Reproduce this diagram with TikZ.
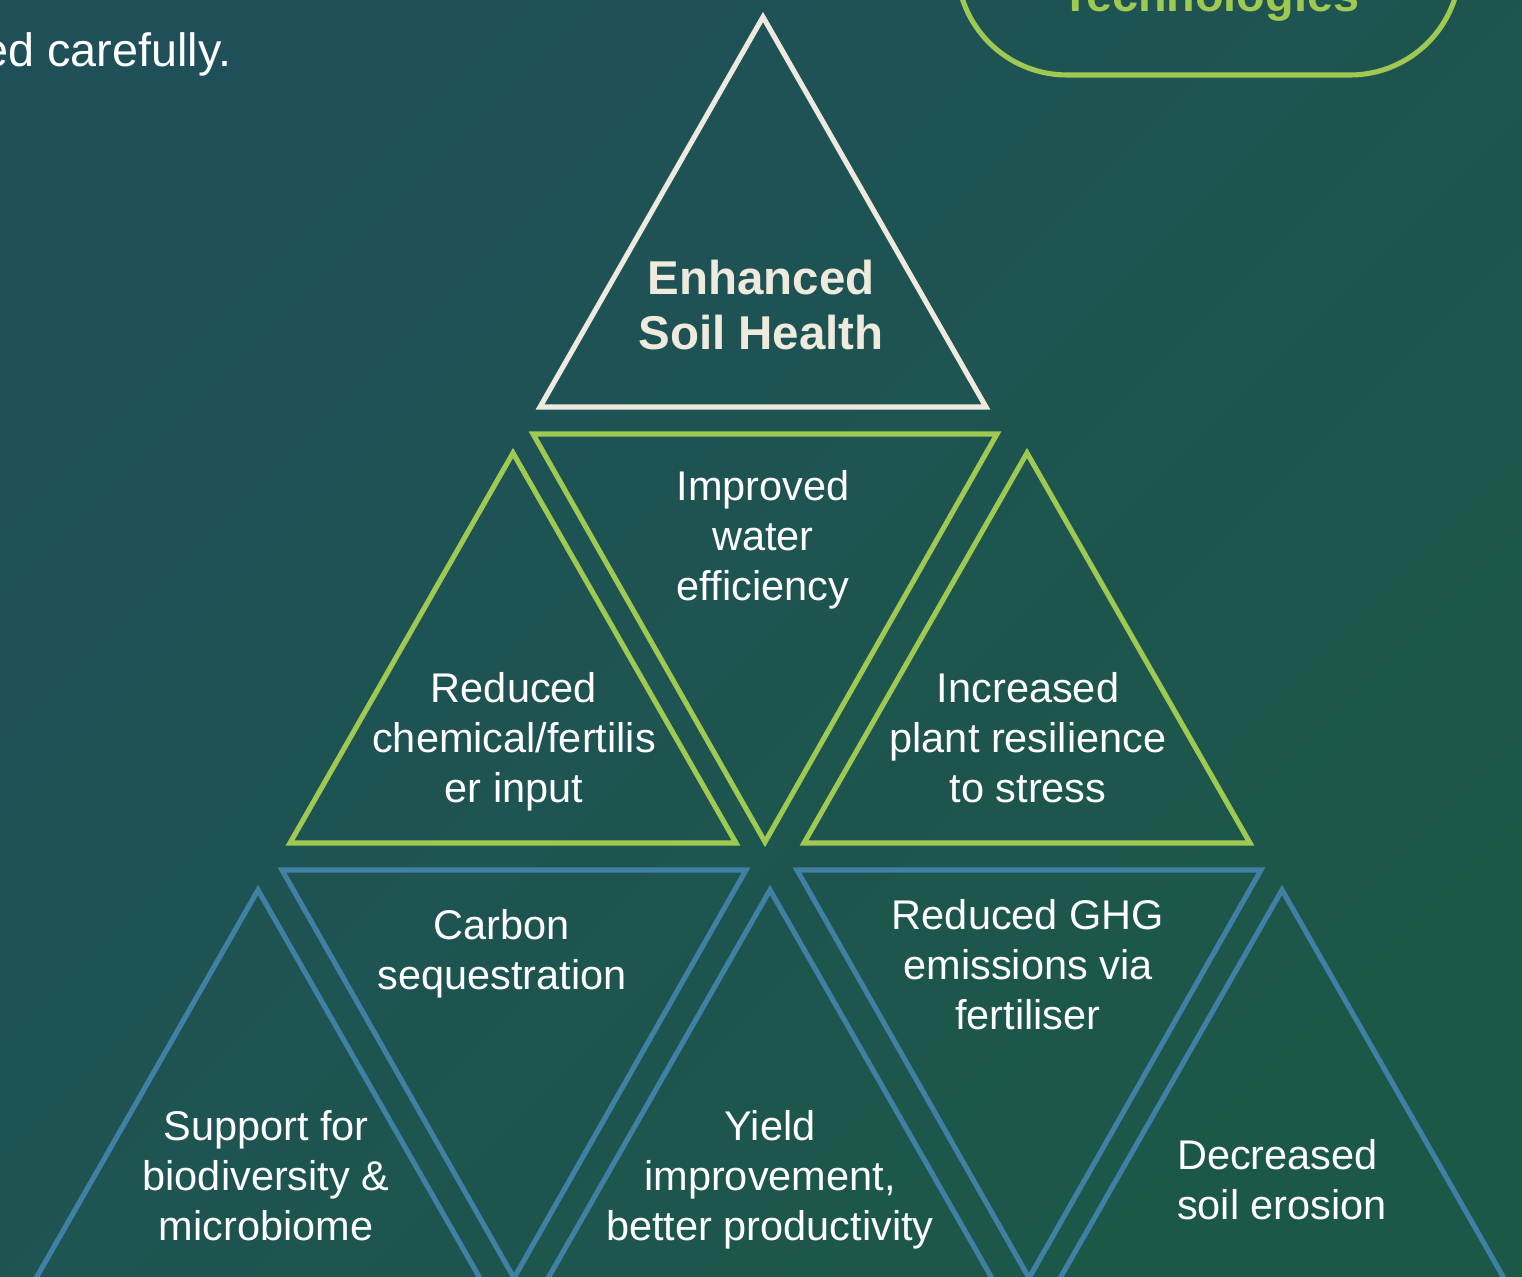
\documentclass[tikz,border=0pt]{standalone}
\usepackage{fontspec}
\setmainfont{Liberation Sans}
\usetikzlibrary{positioning}
\definecolor{bgtop}{RGB}{31,80,89}
\definecolor{bgbottom}{RGB}{28,88,72}
\definecolor{chalk}{RGB}{238,234,222}
\definecolor{leafgreen}{RGB}{160,201,82}
\definecolor{steelblue}{RGB}{64,128,164}

\tikzset{
  tri/.style={line width=1.45pt, line join=miter},
  benefit/.style={text=white, align=center, inner sep=0pt,
    font=\fontsize{11.8}{14.2}\selectfont},
}

\begin{document}
\begin{tikzpicture}[x=0.01cm, y=-0.01cm]

    % page and background
    \useasboundingbox (0,0) rectangle (1522,1276);
    \clip (0,0) rectangle (1522,1276);
    \shade[top color=bgtop, bottom color=bgbottom, shading angle=45]
      (0,0) rectangle (1522,1276);

    % tail of the intro sentence
    \node[anchor=base east, text=white, inner sep=0pt,
      font=\fontsize{13.3}{16}\selectfont] (intro) at (232,67) {ed carefully.};

    % technologies badge
    \draw[leafgreen, line width=1.45pt, rounded corners=1.1cm]
      (957,-250) rectangle (1460,75);
    \node[anchor=base, text=leafgreen, inner sep=0pt,
      font=\bfseries\fontsize{13.3}{16}\selectfont] (techno) at (1210,12) {Technologies};

    % upward triangles
    \foreach \ax/\ay/\col in {763/17/chalk, 513/453/leafgreen, 1027/453/leafgreen,
        258/890/steelblue, 770/890/steelblue, 1282/890/steelblue}{
      \draw[tri, \col] (\ax,\ay) -- ++(-223,390) -- ++(446,0) -- cycle;
    }

    % downward triangles
    \foreach \lx/\ly/\col in {533/434/leafgreen, 282/870/steelblue, 797/870/steelblue}{
      \draw[tri, \col] (\lx,\ly) -- ++(464,0) -- ++(-232,408) -- cycle;
    }

    % top of the pyramid
    \node[text=chalk, align=center, inner sep=0pt,
      font=\bfseries\fontsize{13.5}{15.9}\selectfont] (health) at (761,305)
      {Enhanced\\Soil Health};

    % middle row
    \node[benefit] (chemical) at (514,742) {Reduced\\chemical/fertilis\\er input};
    \node[benefit] (water) at (763,540) {Improved\\water\\efficiency};
    \node[benefit] (resilience) at (1028,738) {Increased\\plant resilience\\to stress};

    % bottom row
    \node[benefit] (biodiv) at (266,1176) {Support for\\biodiversity \&\\microbiome};
    \node[benefit] (carbon) at (502,954) {Carbon\\sequestration};
    \node[benefit] (yield) at (770,1180) {Yield\\improvement,\\better productivity};
    \node[benefit] (ghg) at (1028,965) {Reduced GHG\\emissions via\\fertiliser};
    \node[benefit, align=left] (erosion) at (1282,1180) {Decreased\\soil erosion};

  \end{tikzpicture}
\end{document}
